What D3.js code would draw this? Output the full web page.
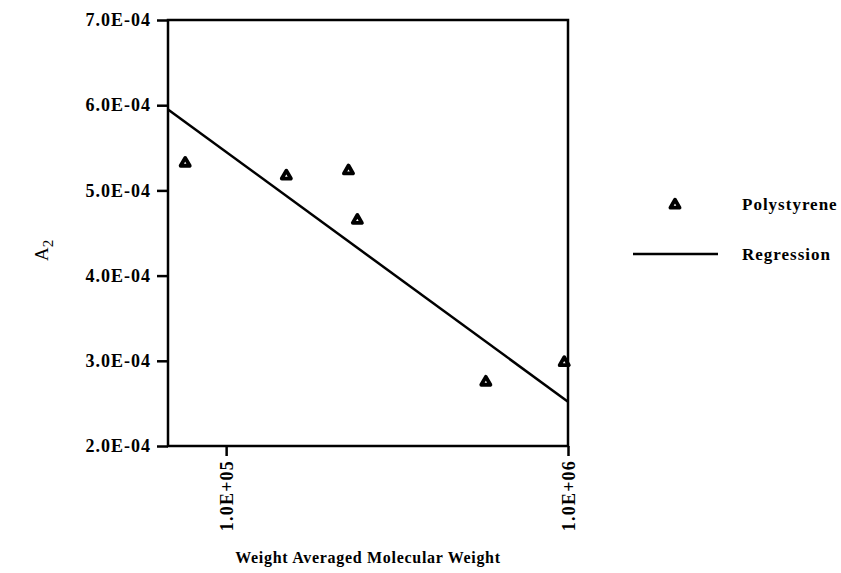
<!DOCTYPE html>
<html>
<head>
<meta charset="utf-8">
<script src="https://cdn.jsdelivr.net/npm/d3@7"></script>
<style>
body { margin:0; background:#fff; }
text { font-family: "Liberation Serif", "DejaVu Serif", serif; fill:#000; font-weight:bold; }
</style>
</head>
<body>
<div id="chart"></div>
<script>
// data
var molWeight = [75900, 150000, 228000, 242000, 575000, 975000];
var a2Values  = [5.32e-4, 5.17e-4, 5.23e-4, 4.65e-4, 2.75e-4, 2.98e-4];
var regX = [67600, 1000000];
var regY = [5.95e-4, 2.52e-4];
var yTicks = [2e-4, 3e-4, 4e-4, 5e-4, 6e-4, 7e-4];
var yTickLabels = ["2.0E-04", "3.0E-04", "4.0E-04", "5.0E-04", "6.0E-04", "7.0E-04"];
var xTicks = [1e5, 1e6];
var xTickLabels = ["1.0E+05", "1.0E+06"];
var legendLabels = ["Polystyrene", "Regression"];

var W = 841, H = 573;
var plot = {left:168, right:568, top:20, bottom:446};

var svg = d3.select("#chart").append("svg")
  .attr("width", W).attr("height", H);

var x = d3.scaleLog().domain([67600, 1000000]).range([plot.left, plot.right]);
var y = d3.scaleLinear().domain([2e-4, 7e-4]).range([plot.bottom, plot.top]);

// frame
svg.append("rect")
  .attr("x", plot.left).attr("y", plot.top)
  .attr("width", plot.right - plot.left).attr("height", plot.bottom - plot.top)
  .attr("fill", "none").attr("stroke", "#000").attr("stroke-width", 2.5);

// y axis
var yAxis = d3.axisLeft(y).tickValues(yTicks)
  .tickFormat(function(d, i){ return yTickLabels[i]; })
  .tickSize(11).tickPadding(6);
var gy = svg.append("g").attr("transform", "translate(" + plot.left + ",0)").call(yAxis);
gy.select(".domain").remove();
gy.selectAll("line").attr("stroke-width", 2.5);
gy.selectAll("text").attr("font-size", "18px").attr("letter-spacing", "1px")
  .style("font-family", "'Liberation Serif', serif");

// x axis
var xAxis = d3.axisBottom(x).tickValues(xTicks)
  .tickFormat(function(d, i){ return xTickLabels[i]; })
  .tickSize(10).tickPadding(6);
var gx = svg.append("g").attr("transform", "translate(0," + plot.bottom + ")").call(xAxis);
gx.select(".domain").remove();
gx.selectAll("line").attr("stroke-width", 2.5);
gx.selectAll("text")
  .attr("font-size", "18px").attr("letter-spacing", "1.2px")
  .style("font-family", "'Liberation Serif', serif")
  .attr("text-anchor", "end")
  .attr("transform", "rotate(-90)")
  .attr("x", -14).attr("y", 0).attr("dy", "0.35em");

// regression line
var line = d3.line().x(function(d){ return x(d[0]); }).y(function(d){ return y(d[1]); });
svg.append("path")
  .datum(d3.zip(regX, regY))
  .attr("d", line)
  .attr("fill", "none").attr("stroke", "#000").attr("stroke-width", 2.5);

// markers
var tri = d3.symbol().type(d3.symbolTriangle).size(36);
svg.selectAll(".pt").data(d3.zip(molWeight, a2Values)).enter()
  .append("path")
  .attr("class", "pt")
  .attr("d", tri)
  .attr("transform", function(d){ return "translate(" + x(d[0]) + "," + y(d[1]) + ")"; })
  .attr("fill", "#fff").attr("stroke", "#000").attr("stroke-width", 3.8)
  .attr("stroke-linejoin", "round");

// axis titles
svg.append("text")
  .attr("x", 368).attr("y", 563)
  .attr("text-anchor", "middle")
  .attr("font-size", "16px").attr("letter-spacing", "0.7px")
  .text("Weight Averaged Molecular Weight");

var a2 = svg.append("text")
  .attr("transform", "translate(48,261) rotate(-90)")
  .attr("font-size", "19px").style("font-weight", "normal");
a2.append("tspan").text("A");
a2.append("tspan").attr("font-size", "15px").attr("dy", 5).text("2");

// legend
var lg = svg.append("g");
lg.append("path")
  .attr("d", tri)
  .attr("transform", "translate(675,205)")
  .attr("fill", "#fff").attr("stroke", "#000").attr("stroke-width", 3.8)
  .attr("stroke-linejoin", "round");
lg.append("line")
  .attr("x1", 633).attr("x2", 718).attr("y1", 254).attr("y2", 254)
  .attr("stroke", "#000").attr("stroke-width", 2.5);
lg.selectAll(".lt").data(legendLabels).enter()
  .append("text")
  .attr("x", 742)
  .attr("y", function(d, i){ return 210 + i * 50; })
  .attr("font-size", "17px").attr("letter-spacing", "1px")
  .text(function(d){ return d; });
</script>
</body>
</html>
